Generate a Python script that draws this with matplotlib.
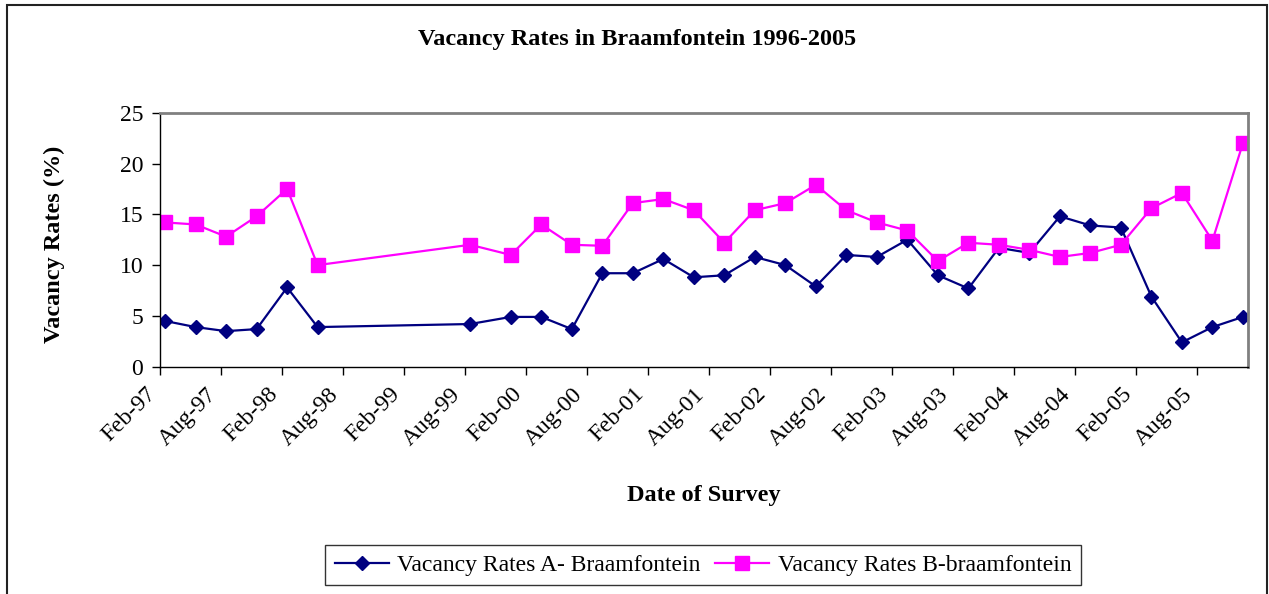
import numpy as np
import pandas as pd
import matplotlib
matplotlib.use("Agg")
import matplotlib.pyplot as plt
from matplotlib.patches import Rectangle

plt.rcParams['font.family'] = ['Liberation Serif', 'DejaVu Serif']

# survey dates (month of survey)
survey_dates = ["1997-02", "1997-05", "1997-08", "1997-11", "1998-02", "1998-05",
                "1999-08", "1999-12", "2000-03", "2000-06", "2000-09", "2000-12",
                "2001-03", "2001-06", "2001-09", "2001-12", "2002-03", "2002-06",
                "2002-09", "2002-12", "2003-03", "2003-06", "2003-09", "2003-12",
                "2004-03", "2004-06", "2004-09", "2004-12", "2005-03", "2005-06",
                "2005-09", "2005-12"]

rates_a = [4.5, 3.9, 3.5, 3.7, 7.8, 3.9,
           4.2, 4.9, 4.9, 3.7, 9.2, 9.2,
           10.6, 8.8, 9.0, 10.8, 10.0, 7.9,
           11.0, 10.8, 12.5, 9.0, 7.7, 11.7,
           11.2, 14.8, 13.9, 13.7, 6.9, 2.4,
           3.9, 4.9]

rates_b = [14.2, 14.0, 12.8, 14.8, 17.5, 10.0,
           12.0, 11.0, 14.0, 12.0, 11.9, 16.1,
           16.5, 15.4, 12.2, 15.4, 16.1, 17.9,
           15.4, 14.2, 13.4, 10.4, 12.2, 12.0,
           11.5, 10.8, 11.2, 12.0, 15.6, 17.1,
           12.4, 22.0]

tick_labels = ["Feb-97", "Aug-97", "Feb-98", "Aug-98", "Feb-99", "Aug-99",
               "Feb-00", "Aug-00", "Feb-01", "Aug-01", "Feb-02", "Aug-02",
               "Feb-03", "Aug-03", "Feb-04", "Aug-04", "Feb-05", "Aug-05"]

# month axis: each month is one slot, points sit in middle of their month
start = pd.Period("1997-02", freq="M")
periods = [pd.Period(d, freq="M") for d in survey_dates]
x = np.array([(p - start).n for p in periods]) + 0.5
tick_pos = np.arange(len(tick_labels)) * 6

W, H = 1269, 594
fig = plt.figure(figsize=(W / 100, H / 100), dpi=100)
ax = fig.add_axes([160 / W, 1 - 366.7 / H, 1088 / W, 254 / H])

ax.plot(x, rates_a, color='#000080', lw=1.6, marker='D', ms=7.5,
        label='Vacancy Rates A- Braamfontein')
ax.plot(x, rates_b, color='#FF00FF', lw=1.6, marker='s', ms=10,
        label='Vacancy Rates B-braamfontein')

ax.set_xlim(0, 107)
ax.set_ylim(0, 25)
ax.set_yticks([0, 5, 10, 15, 20, 25])
ax.set_xticks(tick_pos)
ax.set_xticklabels(tick_labels, rotation=45, ha='right', va='bottom',
                   rotation_mode='anchor')
ax.tick_params(axis='both', labelsize=17, direction='out', length=6, width=1, color='black')
ax.tick_params(axis='x', pad=17)
ax.tick_params(axis='y', pad=6)

for s in ['top', 'right']:
    ax.spines[s].set_color('#808080')
    ax.spines[s].set_linewidth(2)
for s in ['left', 'bottom']:
    ax.spines[s].set_color('black')
    ax.spines[s].set_linewidth(1)

ax.set_ylabel('Vacancy Rates (%)', fontsize=17.5, fontweight='bold')
ax.yaxis.set_label_coords(-(160 - 65) / 1088, 0.48)
fig.text(704 / W, 1 - 496 / H, 'Date of Survey', fontsize=17.5, fontweight='bold',
         ha='center', va='center')
fig.text(637 / W, 1 - 39 / H, 'Vacancy Rates in Braamfontein 1996-2005',
         fontsize=17.5, fontweight='bold', ha='center', va='center')

leg = fig.legend(loc='center', bbox_to_anchor=(703 / W, 1 - 565 / H), ncol=2,
                 fontsize=17, frameon=True, fancybox=False, edgecolor='black',
                 handlelength=2.3, columnspacing=0.6, handletextpad=0.35,
                 borderpad=0.4)
leg.get_frame().set_linewidth(1)

# chart border
fig.patches.append(Rectangle((7 / W, -0.05), 1260 / W, 1.05 - 5 / H,
                             transform=fig.transFigure, fill=False,
                             edgecolor='#222222', lw=1.5))

fig.savefig('out.png', dpi=100)
